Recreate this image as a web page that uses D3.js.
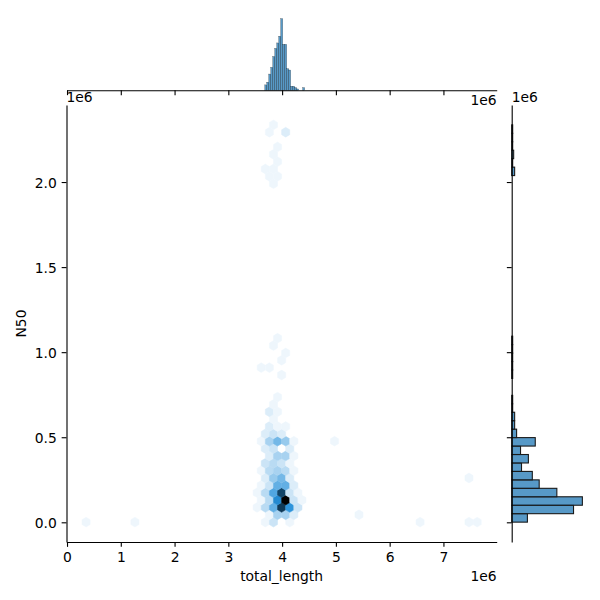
<!DOCTYPE html>
<html><head><meta charset="utf-8">
<script src="https://cdn.jsdelivr.net/npm/d3@7"></script>
<style>
body{margin:0;background:#fff}
svg text{font-family:"DejaVu Sans",sans-serif;font-size:13.89px;fill:#000}
</style>
</head><body>
<svg id="chart" width="600" height="600"></svg>
<script>
// ---------------- data ----------------
const xExtent = [0.354e6, 7.627e6];   // total_length min / max
const yExtent = [0.001e6, 2.336e6];   // N50 min / max
const gridsize = 48;                  // hexbin gridsize
const xTicks = [0, 1e6, 2e6, 3e6, 4e6, 5e6, 6e6, 7e6];
const yTicks = [0, 0.5e6, 1.0e6, 1.5e6, 2.0e6];
const xLabel = "total_length", yLabel = "N50", offsetLabel = "1e6";

// hexbin cells: row (alternating lattices), column, count
const hexRow = [0,0,0,0,0,0,0,0,
  1,1,1,1,1,
  2,2,2,2,2,2,
  3,3,3,3,3,3,
  4,4,4,4,4,4,
  5,5,5,5,5,
  6,6,6,6,6,
  7,7,7,7,7,
  8,8,8,8,
  9,9,9,9,
  10,10,10,
  11,11,11,11,11,11,
  12,12,12,
  13,13,13,
  14,
  15,15,
  16,17,20,21,21,22,23,24,25,
  46,47,47,48,48,49,50,51,53,53,54];
const hexCol = [0,6,22,23,25,41,47,48,
  22,23,24,25,33,
  21,22,23,24,25,26,
  21,22,23,24,25,26,
  21,22,23,24,25,26,
  21,22,23,24,25,
  22,23,24,25,47,
  21,22,23,24,25,
  22,23,24,25,
  22,23,24,25,
  22,23,25,
  21,22,23,24,25,30,
  22,23,24,
  22,23,24,
  23,
  22,23,
  23,23,24,21,22,24,24,23,23,
  23,22,23,22,23,23,23,23,22,24,23];
const hexCount = [1,1,1,3,1,1,1,1,
  1,5,5,2,1,
  1,4,9,20,12,3,
  1,4,13,25,3,1,
  1,4,10,19,3,1,
  1,3,9,9,2,
  2,6,8,2,1,
  1,4,5,4,1,
  3,4,3,1,
  2,5,5,1,
  2,3,2,
  1,5,8,6,1,1,
  2,3,2,
  2,1,1,
  1,
  2,1,
  1,1,1,1,1,1,1,1,1,
  1,1,1,1,1,1,1,1,1,2,1];

// top marginal histogram (total_length)
const topBinStart = 3.677e6, topBinWidth = 0.0371e6;
const topCounts = [4,6,12,17,25,31,35,40,53,34,34,16,15,3,3,2,1,0,0,2];

// right marginal histogram (N50), 47 bins over the N50 extent
const rightBins = 47;
const rightCounts = [16,63,72,46,28,21,10,17,9,24,5,3,3,1,1,0,0,1,1,1,1,1,
  0,0,0,0,0,0,0,0,0,0,0,0,0,0,0,0,0,0,0,3,1,2,1,1,1];

// ---------------- layout ----------------
const M = {left:66.5, right:496.7, top:105, bottom:542};
const TOP = {top:15, bottom:90.3};
const RIGHT = {left:511.7, right:585.9};
const tickLen = 4.86, lw = 1.11;

const svg = d3.select("#chart");
const xr = xExtent[1]-xExtent[0], yr = yExtent[1]-yExtent[0];
const x = d3.scaleLinear().domain([xExtent[0]-0.05*xr, xExtent[1]+0.05*xr]).range([M.left, M.right]);
const y = d3.scaleLinear().domain([yExtent[0]-0.05*yr, yExtent[1]+0.05*yr]).range([M.bottom, M.top]);

// ---------------- hexbin ----------------
const ny = Math.floor(gridsize/Math.sqrt(3));
const sx = xr/gridsize, sy = yr/ny;
const maxC = d3.max(hexCount);
const hexColor = c => d3.hsl(204.6, 0.706, 1 - c/maxC).formatHex();
const verts = [[0.5,-1/6],[0.5,1/6],[0,1/3],[-0.5,1/6],[-0.5,-1/6],[0,-1/3]];
const cells = hexRow.map((r,i)=>{
  const odd = r % 2;
  const cx = xExtent[0] + (hexCol[i] + (odd?0.5:0))*sx;
  const cy = yExtent[0] + (r/2)*sy;
  return {cx, cy, c:hexCount[i]};
});
const gHex = svg.append("g");
gHex.selectAll("path").data(cells).join("path")
  .attr("d", d => "M" + verts.map(v => [x(d.cx + v[0]*sx), y(d.cy + v[1]*sy)].join(",")).join("L") + "Z")
  .attr("fill", d => hexColor(d.c))
  .attr("stroke", d => hexColor(d.c))
  .attr("stroke-width", 0.5);

// ---------------- main axes ----------------
const gx = svg.append("g").attr("transform", `translate(0,${M.bottom})`)
  .call(d3.axisBottom(x).tickValues(xTicks).tickFormat(d => d3.format("d")(d/1e6))
    .tickSize(tickLen).tickSizeOuter(0).tickPadding(tickLen));
const gy = svg.append("g").attr("transform", `translate(${M.left},0)`)
  .call(d3.axisLeft(y).tickValues(yTicks).tickFormat(d => d3.format(".1f")(d/1e6))
    .tickSize(tickLen).tickSizeOuter(0).tickPadding(tickLen));
gy.selectAll("text").attr("dy","0.36em");
[gx, gy].forEach(g => {
  g.selectAll("text").attr("font-size", null).attr("font-family", null);
  g.attr("font-size", null).attr("font-family", null);
  g.select(".domain").attr("stroke","#000").attr("stroke-width", lw);
  g.selectAll(".tick line").attr("stroke","#000").attr("stroke-width", lw);
});
svg.append("text").attr("x",(M.left+M.right)/2).attr("y",581).attr("text-anchor","middle").text(xLabel);
svg.append("text").attr("transform",`translate(26.3,${(M.top+M.bottom)/2}) rotate(-90)`).attr("text-anchor","middle").text(yLabel);
svg.append("text").attr("x",M.right).attr("y",580.5).attr("text-anchor","end").text(offsetLabel);
svg.append("text").attr("x",M.left).attr("y",101.5).attr("text-anchor","start").text(offsetLabel);

// ---------------- top marginal ----------------
const maxTop = d3.max(topCounts);
const yTop = d3.scaleLinear().domain([0, maxTop*1.05]).range([TOP.bottom, TOP.top]);
const topData = topCounts.map((c,i)=>({x0: topBinStart + i*topBinWidth, c})).filter(d => d.c > 0);
svg.append("g").selectAll("rect").data(topData).join("rect")
  .attr("x", d => x(d.x0)).attr("width", d => x(d.x0+topBinWidth)-x(d.x0))
  .attr("y", d => yTop(d.c)).attr("height", d => yTop(0)-yTop(d.c))
  .attr("fill", "rgba(31,119,180,0.75)").attr("stroke", "rgba(0,0,0,0.6)").attr("stroke-width", 0.35);
const gxt = svg.append("g").attr("transform", `translate(0,${TOP.bottom})`)
  .call(d3.axisBottom(x).tickValues(xTicks).tickFormat("").tickSize(tickLen).tickSizeOuter(0));
gxt.select(".domain").attr("stroke","#000").attr("stroke-width", lw);
gxt.selectAll(".tick line").attr("stroke","#000").attr("stroke-width", lw);
svg.append("text").attr("x",M.right).attr("y",105).attr("text-anchor","end").text(offsetLabel);

// ---------------- right marginal ----------------
const maxR = d3.max(rightCounts);
const xRight = d3.scaleLinear().domain([0, maxR*1.05]).range([RIGHT.left, RIGHT.right]);
const rw = yr/rightBins;
const rData = rightCounts.map((c,i)=>({y0: yExtent[0]+i*rw, c})).filter(d => d.c>0);
svg.append("g").selectAll("rect").data(rData).join("rect")
  .attr("x", RIGHT.left).attr("width", d => xRight(d.c)-xRight(0))
  .attr("y", d => y(d.y0+rw)).attr("height", d => y(d.y0)-y(d.y0+rw))
  .attr("fill", "rgba(31,119,180,0.75)").attr("stroke", "#1a1a1a").attr("stroke-width", 1.1);
const gyr = svg.append("g").attr("transform", `translate(${RIGHT.left},0)`)
  .call(d3.axisLeft(y).tickValues(yTicks).tickFormat("").tickSize(tickLen).tickSizeOuter(0));
gyr.select(".domain").attr("stroke","#000").attr("stroke-width", lw);
gyr.selectAll(".tick line").attr("stroke","#000").attr("stroke-width", lw);
svg.append("text").attr("x",RIGHT.left).attr("y",101.5).attr("text-anchor","start").text(offsetLabel);
</script>
</body></html>
